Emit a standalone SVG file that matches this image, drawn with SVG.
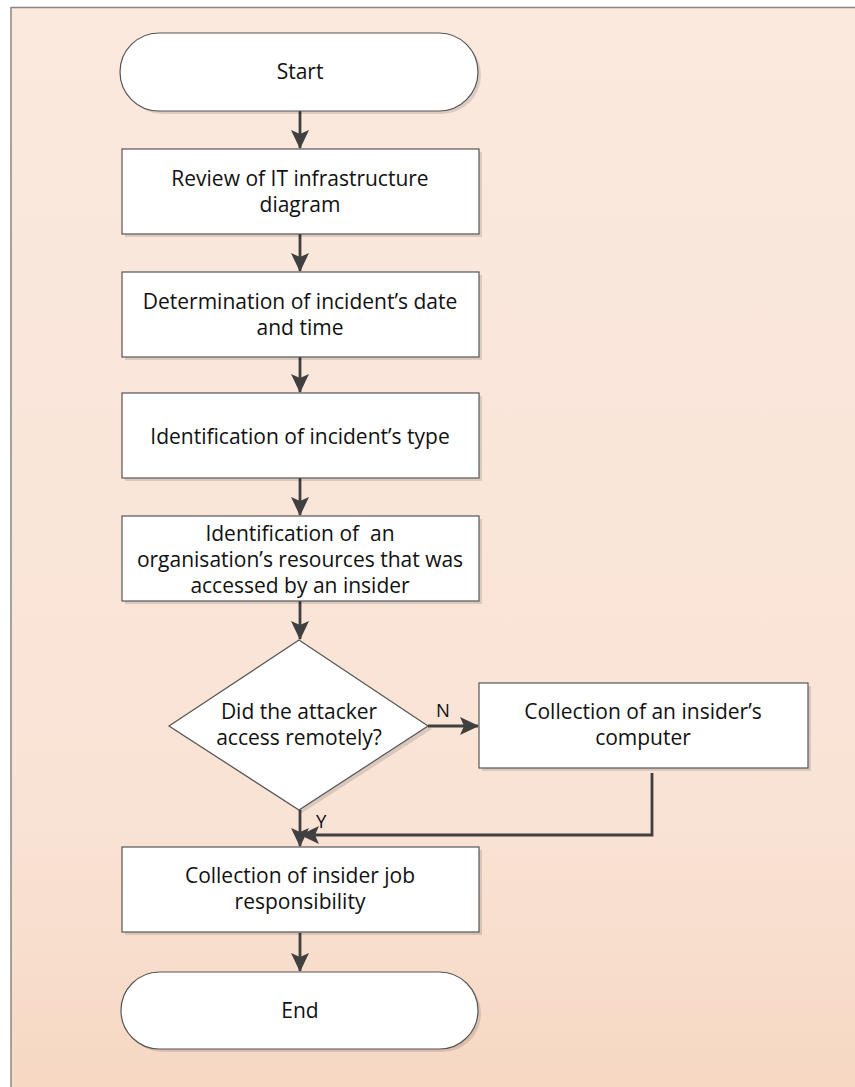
<svg xmlns="http://www.w3.org/2000/svg" width="855" height="1087" viewBox="0 0 855 1087">
  <defs>
    <linearGradient id="bg" x1="0" y1="0" x2="0" y2="1">
      <stop offset="0" stop-color="#FBE9DE"/>
      <stop offset="0.75" stop-color="#F9E3D5"/>
      <stop offset="1" stop-color="#F6D8C3"/>
    </linearGradient>
    <marker id="arrow" markerUnits="userSpaceOnUse" markerWidth="20" markerHeight="20" refX="18" refY="9" orient="auto">
      <path d="M0,0 L19,9 L0,18 L4,9 Z" fill="#404040"/>
    </marker>
    <style>
      .shape { fill: #FFFFFF; stroke: #555555; stroke-width: 1.2; }
      .shadow { fill: #000000; opacity: 0.12; }
      .label { font-family: "Open Sans", "Liberation Sans", sans-serif; font-size: 21px; fill: #111111; text-anchor: middle; }
      .tag { font-family: "Open Sans", "Liberation Sans", sans-serif; font-size: 18.5px; fill: #111111; }
      .flow { fill: none; stroke: #404040; stroke-width: 2.8; }
    </style>
  </defs>

  <!-- page background and frame -->
  <rect x="11" y="7.5" width="844" height="1080" fill="url(#bg)"/>
  <path d="M11,1087 L11,7.5 L855,7.5" fill="none" stroke="#8C8682" stroke-width="1.5"/>

  <!-- connectors -->
  <g id="connectors">
    <path class="flow" d="M300,111 L300,148" marker-end="url(#arrow)"/>
    <path class="flow" d="M300,234 L300,271" marker-end="url(#arrow)"/>
    <path class="flow" d="M300,357 L300,392" marker-end="url(#arrow)"/>
    <path class="flow" d="M300,478 L300,515" marker-end="url(#arrow)"/>
    <path class="flow" d="M300,601 L300,639" marker-end="url(#arrow)"/>
    <path class="flow" d="M428,726 L478,726" marker-end="url(#arrow)"/>
    <path class="flow" d="M300,810 L300,846" marker-end="url(#arrow)"/>
    <path class="flow" d="M652,773 L652,835 L301,835" marker-end="url(#arrow)"/>
    <path class="flow" d="M300,933 L300,971" marker-end="url(#arrow)"/>
    <text class="tag" x="436" y="717">N</text>
    <text class="tag" x="316" y="828">Y</text>
  </g>

  <g id="start">
    <rect class="shadow" x="123" y="36" width="358" height="78" rx="39"/>
    <rect class="shape" x="120" y="33" width="358" height="78" rx="39"/>
    <text class="label" x="300" y="79">Start</text>
  </g>

  <g id="review">
    <rect class="shadow" x="125" y="152" width="357" height="85"/>
    <rect class="shape" x="122" y="149" width="357" height="85"/>
    <text class="label" x="300" y="186">Review of IT infrastructure</text>
    <text class="label" x="300" y="212">diagram</text>
  </g>

  <g id="datetime">
    <rect class="shadow" x="125" y="275" width="357" height="85"/>
    <rect class="shape" x="122" y="272" width="357" height="85"/>
    <text class="label" x="300" y="309">Determination of incident’s date</text>
    <text class="label" x="300" y="335">and time</text>
  </g>

  <g id="type">
    <rect class="shadow" x="125" y="396" width="357" height="85"/>
    <rect class="shape" x="122" y="393" width="357" height="85"/>
    <text class="label" x="300" y="444">Identification of incident’s type</text>
  </g>

  <g id="resources">
    <rect class="shadow" x="125" y="519" width="357" height="85"/>
    <rect class="shape" x="122" y="516" width="357" height="85"/>
    <text class="label" x="300" y="541" xml:space="preserve">Identification of  an</text>
    <text class="label" x="300" y="567">organisation’s resources that was</text>
    <text class="label" x="300" y="593">accessed by an insider</text>
  </g>

  <g id="decision">
    <path class="shadow" d="M302,643 L432,729 L302,813 L172,729 Z"/>
    <path class="shape" d="M299,640 L428,726 L299,810 L169,726 Z"/>
    <text class="label" x="299" y="719">Did the attacker</text>
    <text class="label" x="299" y="745">access remotely?</text>
  </g>

  <g id="computer">
    <rect class="shadow" x="482" y="686" width="329" height="85"/>
    <rect class="shape" x="479" y="683" width="329" height="85"/>
    <text class="label" x="643" y="719">Collection of an insider’s</text>
    <text class="label" x="643" y="745">computer</text>
  </g>

  <g id="responsibility">
    <rect class="shadow" x="125" y="850" width="357" height="85"/>
    <rect class="shape" x="122" y="847" width="357" height="85"/>
    <text class="label" x="300" y="883">Collection of insider job</text>
    <text class="label" x="300" y="909">responsibility</text>
  </g>

  <g id="end">
    <rect class="shadow" x="124" y="975" width="357" height="77" rx="38.5"/>
    <rect class="shape" x="121" y="972" width="357" height="77" rx="38.5"/>
    <text class="label" x="300" y="1018">End</text>
  </g>
</svg>
